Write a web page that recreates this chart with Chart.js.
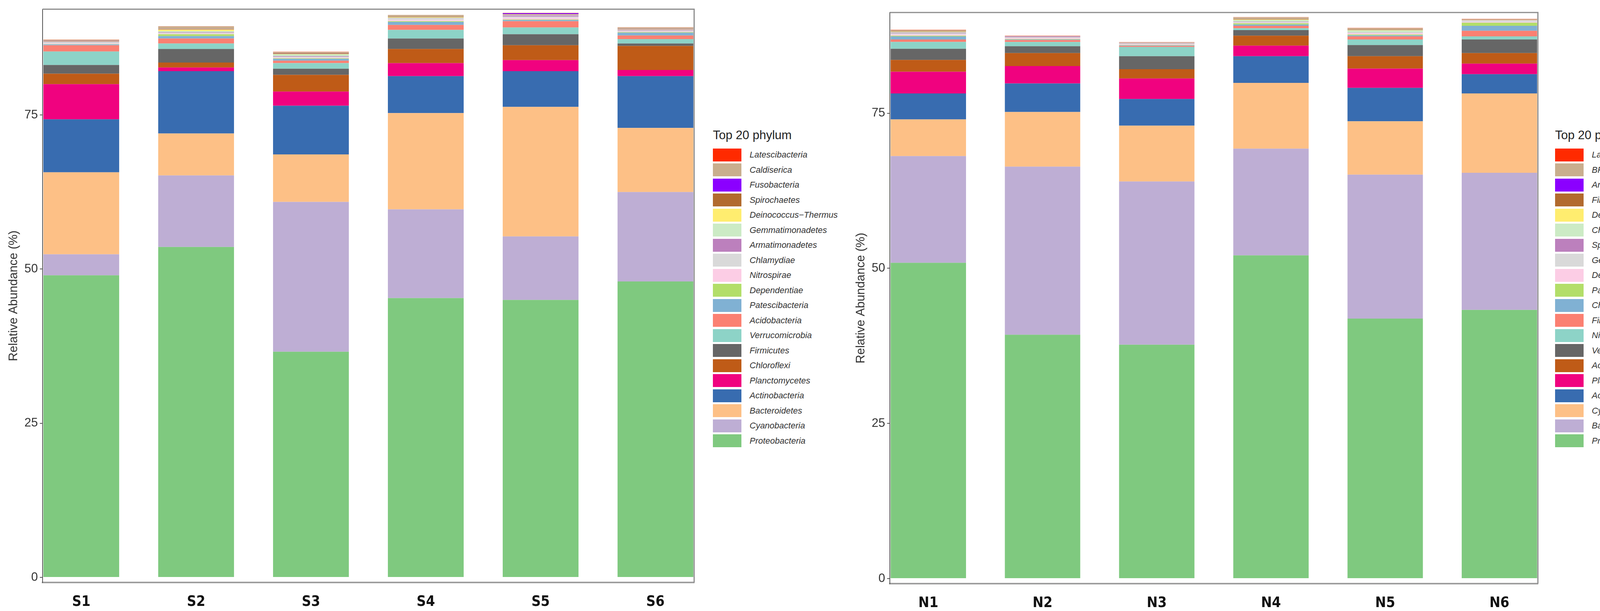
<!DOCTYPE html>
<html>
<head>
<meta charset="utf-8">
<title>Top 20 phylum</title>
<script src="https://cdn.jsdelivr.net/npm/chart.js@4.4.1/dist/chart.umd.min.js"></script>
<style>
    html, body { margin: 0; padding: 0; background: #fff; }
    body { width: 4317px; height: 1563px; position: relative; overflow: hidden; font-family: 'Liberation Sans', Arial, sans-serif; }
    canvas { position: absolute; top: 0; }
    .legend { position: absolute; top: 330px; }
    .legend h4 { margin: 0 0 16px 0; font-weight: normal; font-size: 31px; line-height: 31px; color: #222; white-space: nowrap; }
    .legend .row { display: flex; align-items: center; height: 38.5px; }
    .legend .sw { display: block; width: 73px; height: 33px; }
    .legend .lab { font-style: italic; font-size: 22px; color: #333; margin-left: 21px; white-space: nowrap; }
</style>
</head>
<body>
<canvas id="chart-s" width="1790" height="1563" style="left:0px"></canvas>
<canvas id="chart-n" width="1781" height="1563" style="left:2169px"></canvas>
<div class="legend" id="legend-s" style="left:1825px"></div>
<div class="legend" id="legend-n" style="left:3981px"></div>

<script>
// Samples
const sLabels = ['S1', 'S2', 'S3', 'S4', 'S5', 'S6'];
const nLabels = ['N1', 'N2', 'N3', 'N4', 'N5', 'N6'];
const yTicks = [0, 25, 50, 75];

// Stack order, bottom -> top
const sPhyla = ['Proteobacteria', 'Cyanobacteria', 'Bacteroidetes', 'Actinobacteria', 'Planctomycetes',
    'Chloroflexi', 'Firmicutes', 'Verrucomicrobia', 'Acidobacteria', 'Patescibacteria',
    'Dependentiae', 'Nitrospirae', 'Chlamydiae', 'Armatimonadetes', 'Gemmatimonadetes',
    'Deinococcus\u2212Thermus', 'Spirochaetes', 'Fusobacteria', 'Caldiserica', 'Latescibacteria'];
const nPhyla = ['Proteobacteria', 'Bacteroidetes', 'Cyanobacteria', 'Actinobacteria', 'Planctomycetes',
    'Acidobacteria', 'Verrucomicrobia', 'Nitrospirae', 'Firmicutes', 'Chloroflexi',
    'Patescibacteria', 'Deinococcus\u2212Thermus', 'Gemmatimonadetes', 'Spirochaetes', 'Chlamydiae',
    'Dependentiae', 'Fibrobacteres', 'Armatimonadetes', 'BRC1', 'Latescibacteria'];

// Relative abundance (%) per sample, same order as the phyla lists
const S1 = [49.0, 3.4, 13.3, 8.6, 5.7, 1.7, 1.4, 2.2, 1.0, 0.15, 0.05, 0.1, 0.2, 0.05, 0.05, 0.03, 0.05, 0.02, 0.2, 0.02];
const S2 = [53.6, 11.6, 6.8, 10.1, 0.6, 0.8, 2.2, 0.9, 0.8, 0.4, 0.3, 0.1, 0.15, 0.1, 0.15, 0.25, 0.05, 0.02, 0.45, 0.03];
const S3 = [36.6, 24.3, 7.7, 7.9, 2.3, 2.7, 1.0, 0.9, 0.4, 0.3, 0.1, 0.1, 0.15, 0.1, 0.3, 0.05, 0.1, 0.02, 0.2, 0.03];
const S4 = [45.3, 14.4, 15.6, 6.0, 2.1, 2.3, 1.7, 1.4, 0.8, 0.5, 0.1, 0.2, 0.25, 0.05, 0.1, 0.05, 0.05, 0.02, 0.3, 0.02];
const S5 = [45.0, 10.3, 21.0, 5.8, 1.8, 2.4, 1.8, 1.1, 1.0, 0.2, 0.1, 0.25, 0.2, 0.2, 0.1, 0.05, 0.05, 0.15, 0.05, 0.02];
const S6 = [48.0, 14.5, 10.4, 8.4, 1.0, 3.9, 0.4, 0.7, 0.6, 0.45, 0.1, 0.1, 0.1, 0.1, 0.05, 0.05, 0.03, 0.02, 0.3, 0.02];

const N1 = [50.9, 17.2, 5.9, 4.2, 3.5, 1.9, 1.8, 1.1, 0.4, 0.5, 0.1, 0.2, 0.2, 0.1, 0.1, 0.05, 0.05, 0.02, 0.2, 0.05];
const N2 = [39.3, 27.1, 8.8, 4.6, 2.8, 2.1, 1.1, 0.7, 0.3, 0.1, 0.05, 0.15, 0.1, 0.05, 0.05, 0.02, 0.02, 0.02, 0.1, 0.03];
const N3 = [37.7, 26.3, 9.0, 4.3, 3.3, 1.5, 2.1, 1.5, 0.15, 0.1, 0.05, 0.1, 0.1, 0.05, 0.05, 0.02, 0.02, 0.02, 0.08, 0.02];
const N4 = [52.1, 17.2, 10.6, 4.3, 1.7, 1.6, 0.9, 0.3, 0.4, 0.2, 0.2, 0.1, 0.15, 0.05, 0.25, 0.05, 0.05, 0.02, 0.3, 0.03];
const N5 = [41.9, 23.2, 8.6, 5.4, 3.1, 2.0, 1.8, 0.9, 0.5, 0.15, 0.15, 0.2, 0.1, 0.05, 0.3, 0.05, 0.05, 0.02, 0.25, 0.03];
const N6 = [43.3, 22.1, 12.8, 3.1, 1.7, 1.7, 2.2, 0.5, 0.9, 0.8, 0.5, 0.1, 0.2, 0.05, 0.05, 0.05, 0.02, 0.02, 0.1, 0.02];

const sSamples = [S1, S2, S3, S4, S5, S6];
const nSamples = [N1, N2, N3, N4, N5, N6];

// Colours by stack position (shared by both panels)
const palette = ['#7FC97F', '#BEAED4', '#FDC086', '#386CB0', '#F0027F', '#BF5B17', '#666666',
    '#8DD3C7', '#FB8072', '#80B1D3', '#B3DE69', '#FCCDE5', '#D9D9D9', '#BC80BD', '#CCEBC5',
    '#FFED6F', '#B26A2E', '#8B00FF', '#C9AE8E', '#FF2A00'];

const FONT = "'Liberation Sans', Arial, sans-serif";
const NARROW = "'Liberation Sans Narrow', 'DejaVu Sans Condensed', 'Liberation Sans', sans-serif";

// Top and right edges of the panel
const panelBorder = {
    id: 'panelBorder',
    afterDraw(chart) {
        const { ctx, chartArea: a } = chart;
        ctx.save();
        ctx.strokeStyle = '#8c8c8c';
        ctx.lineWidth = 3;
        ctx.beginPath();
        ctx.moveTo(a.left, a.top);
        ctx.lineTo(a.right, a.top);
        ctx.lineTo(a.right, a.bottom);
        ctx.stroke();
        ctx.restore();
    }
};

function makeChart(canvasId, labels, phyla, samples, opts) {
    const datasets = phyla.map((name, j) => ({
        label: name,
        data: samples.map((vals, i) => ({ x: i, y: vals[j] })),
        backgroundColor: palette[j],
        borderWidth: 0,
        categoryPercentage: 1,
        barPercentage: 0.66,
    }));

    return new Chart(document.getElementById(canvasId), {
        type: 'bar',
        data: { datasets },
        options: {
            responsive: false,
            animation: false,
            devicePixelRatio: 1,
            layout: { padding: { left: 0, right: 13, top: opts.top, bottom: 0 } },
            plugins: { legend: { display: false }, tooltip: { enabled: false } },
            scales: {
                x: {
                    type: 'linear',
                    stacked: true,
                    offset: false,
                    min: -0.337,
                    max: labels.length - 1 + 0.337,
                    afterBuildTicks: s => { s.ticks = labels.map((_, i) => ({ value: i })); },
                    afterFit: s => { s.height = opts.xHeight; },
                    grid: { display: false, offset: false },
                    border: { display: true, color: '#9e9e9e', width: 4 },
                    ticks: {
                        autoSkip: false,
                        maxRotation: 0,
                        padding: 20,
                        color: '#111',
                        font: { family: NARROW, size: 37, weight: 'bold' },
                        callback: v => labels[v],
                    },
                },
                y: {
                    type: 'linear',
                    stacked: true,
                    min: -0.82,
                    max: opts.yMax,
                    afterBuildTicks: s => { s.ticks = yTicks.map(v => ({ value: v })); },
                    afterFit: s => { s.width = 109; },
                    grid: { display: true, drawOnChartArea: false, drawTicks: true, tickLength: 7, color: '#555', lineWidth: 2 },
                    border: { display: true, color: '#555', width: 2 },
                    ticks: { padding: 5, color: '#333', font: { family: FONT, size: 31 } },
                    title: {
                        display: true,
                        text: 'Relative Abundance (%)',
                        color: '#333',
                        font: { family: FONT, size: 31 },
                        padding: { top: 17, bottom: 0 },
                    },
                },
            },
        },
        plugins: [panelBorder],
    });
}

function buildLegend(elId, phyla) {
    const el = document.getElementById(elId);
    let html = '<h4>Top 20 phylum</h4>';
    for (let j = phyla.length - 1; j >= 0; j--) {
        html += `<div class="row"><span class="sw" style="background:${palette[j]}"></span><span class="lab">${phyla[j]}</span></div>`;
    }
    el.innerHTML = html;
}

makeChart('chart-s', sLabels, sPhyla, sSamples, { top: 22, xHeight: 73, yMax: 92.15 });
makeChart('chart-n', nLabels, nPhyla, nSamples, { top: 32, xHeight: 70, yMax: 91.24 });
buildLegend('legend-s', sPhyla);
buildLegend('legend-n', nPhyla);
</script>
</body>
</html>
